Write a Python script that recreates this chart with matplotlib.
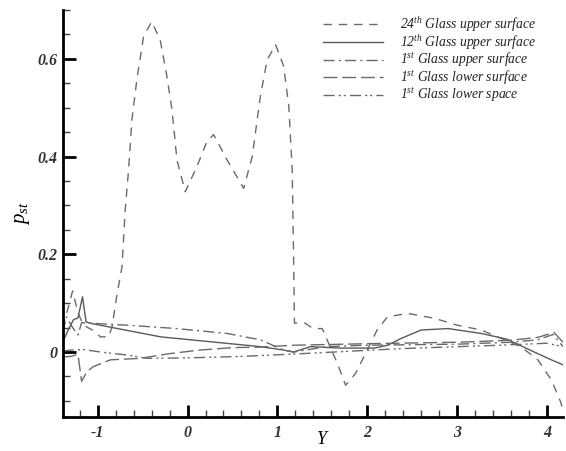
import numpy as np
import matplotlib as mpl
import matplotlib.pyplot as plt

mpl.rcParams['font.family'] = ['Liberation Serif', 'DejaVu Serif']
mpl.rcParams['mathtext.fontset'] = 'custom'
mpl.rcParams['mathtext.rm'] = 'Liberation Serif:italic'
mpl.rcParams['mathtext.it'] = 'Liberation Serif:italic'

# 24th glass upper surface
y24 = [-1.39, -1.33, -1.28, -1.22, -1.16, -1.06, -0.97, -0.88, -0.84, -0.79, -0.73, -0.695,
       -0.66, -0.62, -0.565, -0.49, -0.40, -0.305, -0.23, -0.174, -0.118, -0.026, 0.105,
       0.216, 0.29, 0.44, 0.625, 0.72, 0.81, 0.886, 0.98, 1.07, 1.127, 1.165, 1.18, 1.19,
       1.31, 1.38, 1.44, 1.5, 1.57, 1.667, 1.76, 1.87, 2.0, 2.11, 2.225, 2.45, 2.75, 3.0,
       3.27, 3.49, 3.71, 3.90, 4.05, 4.16, 4.18]
p24 = [0.05, 0.09, 0.125, 0.08, 0.055, 0.045, 0.031, 0.031, 0.052, 0.113, 0.175, 0.29,
       0.366, 0.475, 0.557, 0.646, 0.676, 0.639, 0.564, 0.496, 0.393, 0.328, 0.38,
       0.431, 0.445, 0.393, 0.335, 0.40, 0.523, 0.598, 0.629, 0.585, 0.503, 0.373, 0.2, 0.059,
       0.059, 0.05, 0.048, 0.048, 0.018, -0.023, -0.068, -0.044, 0.004, 0.045, 0.072, 0.079,
       0.069, 0.055, 0.045, 0.028, 0.011, -0.016, -0.057, -0.105, -0.125]

# 12th glass upper surface
y12 = [-1.39, -1.33, -1.27, -1.22, -1.17, -1.13, -1.09, -0.30, 0.81, 1.07, 1.18, 1.37, 1.70,
       2.08, 2.23, 2.38, 2.60, 2.90, 3.27, 3.56, 3.86, 4.05, 4.19]
p12 = [0.02, 0.045, 0.066, 0.07, 0.113, 0.062, 0.059, 0.031, 0.011, 0.004, 0.0, 0.011, 0.008,
       0.008, 0.014, 0.028, 0.045, 0.048, 0.038, 0.026, 0.0, -0.016, -0.027]

# 1st glass upper surface
y1u = [-1.39, -1.35, -1.28, -1.22, -1.18, -1.09, -0.68, -0.12, 0.44, 0.81, 1.07, 1.18, 1.55,
       2.0, 3.0, 3.6, 3.9, 4.07, 4.18]
p1u = [0.04, 0.072, 0.05, 0.035, 0.06, 0.059, 0.055, 0.048, 0.038, 0.025, 0.004, 0.0, 0.011,
       0.014, 0.016, 0.02, 0.025, 0.036, 0.011]

# 1st glass lower surface
y1l = [-1.39, -1.3, -1.22, -1.18, -1.12, -1.05, -0.86, -0.53, -0.19, 0.14, 0.5, 0.8, 1.2,
       2.0, 3.0, 3.6, 3.9, 4.08, 4.18]
p1l = [-0.01, -0.009, -0.005, -0.06, -0.04, -0.03, -0.016, -0.013, -0.003, 0.004, 0.009,
       0.01, 0.014, 0.017, 0.02, 0.024, 0.03, 0.04, 0.02]

# 1st glass lower space
y1s = [-1.39, -1.3, -1.16, -0.97, -0.68, -0.45, 0.0, 0.6, 1.2, 2.38, 3.49, 4.0, 4.18]
p1s = [0.002, 0.004, 0.005, 0.0, -0.006, -0.013, -0.012, -0.009, -0.004, 0.007, 0.014, 0.018, 0.011]

labels = [r'24$^{th}$ Glass upper surface', r'12$^{th}$ Glass upper surface',
          r'1$^{st}$ Glass upper surface', r'1$^{st}$ Glass lower surface',
          r'1$^{st}$ Glass lower space']

fig = plt.figure(figsize=(5.66, 4.51), dpi=100)
ax = fig.add_axes([63 / 566, 1 - 417 / 451, 500 / 566, 407 / 451])

ax.plot(y24, p24, color='#6a6a6a', lw=1.0, ls=(0, (6, 5)), label=labels[0])
ax.plot(y12, p12, color='#5a5a5a', lw=1.0, ls='-', label=labels[1])
ax.plot(y1u, p1u, color='#6a6a6a', lw=1.0, ls=(0, (8, 3, 1.5, 3)), label=labels[2])
ax.plot(y1l, p1l, color='#6a6a6a', lw=1.0, ls=(0, (10, 3.5)), label=labels[3])
ax.plot(y1s, p1s, color='#6a6a6a', lw=1.0, ls=(0, (8, 3, 1.5, 2, 1.5, 3)), label=labels[4])

ax.set_xlim(-1.387, 4.18)
ax.set_ylim(-0.133, 0.70)
ax.set_xticks([-1, 0, 1, 2, 3, 4])
ax.set_xticklabels(['-1', '0', '1', '2', '3', '4'])
ax.set_xticks(np.arange(-1.2, 4.2, 0.2), minor=True)
ax.set_yticks([0, 0.2, 0.4, 0.6])
ax.set_yticklabels(['0', '0.2', '0.4', '0.6'])
ax.set_yticks(np.arange(-0.1, 0.71, 0.05), minor=True)

for s in ['top', 'right']:
    ax.spines[s].set_visible(False)
for s in ['left', 'bottom']:
    ax.spines[s].set_linewidth(2)
ax.tick_params(which='major', direction='in', length=9, width=2)
ax.tick_params(which='minor', direction='in', length=5, width=1, color='#444444')
for t in ax.get_xticklabels() + ax.get_yticklabels():
    t.set_fontstyle('italic')
    t.set_fontweight('bold')
    t.set_fontsize(11.5)
    t.set_color('#333333')
ax.tick_params(axis='x', pad=6)
ax.tick_params(axis='y', pad=4)

ax.set_xlabel('Y', fontsize=13, fontstyle='italic', va='center')
ax.xaxis.set_label_coords(0.518, -0.055)
ax.set_ylabel(r'$p_{st}$', fontsize=15)
ax.yaxis.set_label_coords(-0.062, 0.5)

leg = ax.legend(loc='upper left', bbox_to_anchor=(316 / 566, 1 - 8 / 451),
                bbox_transform=fig.transFigure, frameon=False, fontsize=9.8,
                handlelength=4.4, handletextpad=1.3, labelspacing=-0.05, borderpad=0)
for t in leg.get_texts():
    t.set_fontstyle('italic')
    t.set_color('#222222')

fig.savefig('out.png', dpi=100)
